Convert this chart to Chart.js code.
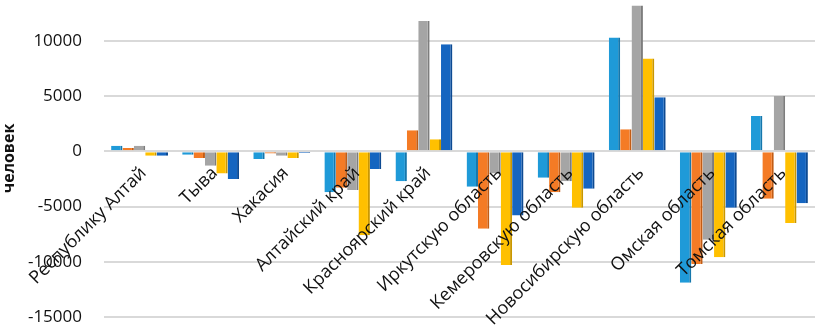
<!DOCTYPE html>
<html>
<head>
<meta charset="utf-8">
<script src="https://cdn.jsdelivr.net/npm/chart.js@4"></script>
<style>
  html, body { margin: 0; padding: 0; background: #fff; }
  #wrap { position: relative; width: 822px; height: 332px; }
</style>
</head>
<body>
<div id="wrap"><canvas id="chart"></canvas></div>
<script>
const regions = [
  "Республику Алтай", "Тыва", "Хакасия", "Алтайский край", "Красноярский край",
  "Иркутскую область", "Кемеровскую область", "Новосибирскую область",
  "Омская область", "Томская область"
];

// five series (people)
const series1 = [500, -300, -700, -3700, -2700, -3200, -2400, 10300, -11900, 3200];
const series2 = [300, -600, -200, -3300, 1900, -7000, -3700, 2000, -10200, -4300];
const series3 = [500, -1300, -400, -3500, 11800, -2000, -2700, 13200, -8000, 5000];
const series4 = [-400, -2000, -600, -7600, 1100, -10300, -5100, 8400, -9600, -6500];
const series5 = [-400, -2500, -150, -1600, 9700, -5800, -3400, 4900, -5100, -4700];

const yTicks = [-15000, -10000, -5000, 0, 5000, 10000];

const colors = ["#1f9ad8", "#f47b25", "#a5a5a5", "#ffc000", "#1565c0"];
const sides = ["#1577ac", "#c25c14", "#7d7d7d", "#c99700", "#0d4a92"];

const makeSet = (data, i) => ({
  label: "s" + (i + 1),
  data: data,
  backgroundColor: colors[i],
  borderColor: sides[i],
  borderWidth: { right: 2, left: 0, top: 0, bottom: 0 },
  borderSkipped: false,
  barPercentage: 1.0,
  categoryPercentage: 0.8,
});

// category names sit on the zero line, slanted, drawn over the bars
const slantLabels = {
  id: "slantLabels",
  afterDatasetsDraw(chart) {
    const { ctx, scales } = chart;
    const y0 = scales.y.getPixelForValue(0);
    ctx.save();
    ctx.font = "18px 'Open Sans'";
    ctx.fillStyle = "#111";
    ctx.textAlign = "right";
    ctx.textBaseline = "middle";
    regions.forEach((name, i) => {
      const x = scales.x.getPixelForValue(i);
      ctx.save();
      ctx.translate(x + 4, y0 + 19);
      ctx.rotate(-Math.PI / 4);
      ctx.fillText(name, 0, 0);
      ctx.restore();
    });
    ctx.restore();
  },
};

const ctx = document.getElementById("chart").getContext("2d");
new Chart(ctx, {
  type: "bar",
  data: {
    labels: regions,
    datasets: [series1, series2, series3, series4, series5].map(makeSet),
  },
  options: {
    responsive: true,
    maintainAspectRatio: false,
    animation: false,
    layout: { padding: { left: 0, right: 7, top: 0, bottom: 15 } },
    plugins: { legend: { display: false }, tooltip: { enabled: false } },
    scales: {
      x: {
        grid: { display: false, drawTicks: false },
        border: { display: false },
        ticks: { display: false },
      },
      y: {
        min: -15000,
        max: 13700,
        afterFit: (s) => {
          s.width = 104;
          s.paddingTop = 0;
          s.paddingBottom = 0;
        },
        afterBuildTicks: (scale) => {
          scale.ticks = yTicks.map((v) => ({ value: v }));
        },
        grid: { color: "#d9d9d9", lineWidth: 2, drawTicks: false },
        border: { display: false },
        ticks: {
          padding: 22,
          color: "#111",
          font: { family: "Open Sans", size: 17 },
          callback: (v) => String(v),
        },
        title: {
          display: true,
          text: "человек",
          color: "#111",
          padding: { top: 0, bottom: 12 },
          font: { family: "Open Sans", size: 16, weight: "bold" },
        },
      },
    },
  },
  plugins: [slantLabels],
});
</script>
</body>
</html>
